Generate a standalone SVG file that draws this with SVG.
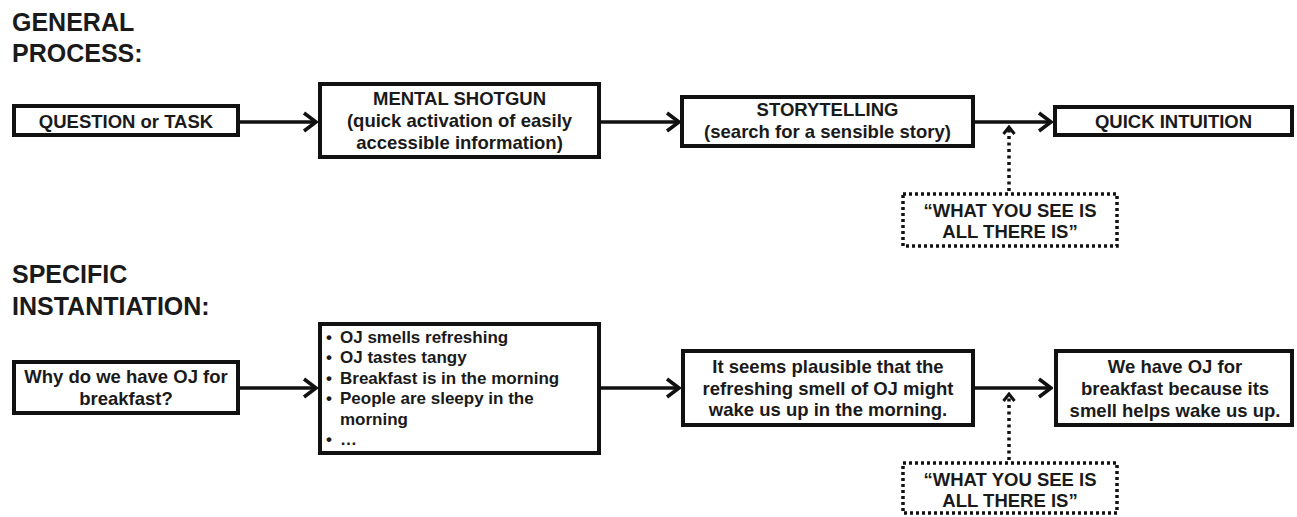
<svg xmlns="http://www.w3.org/2000/svg" width="1297" height="517" viewBox="0 0 1297 517">
  <defs>
    <marker id="arrow" viewBox="-16 -12 18 24" refX="0" refY="0" markerWidth="18" markerHeight="24" markerUnits="userSpaceOnUse" orient="auto">
      <path d="M-12,-9 L0,0 L-12,9" fill="none" stroke="#111" stroke-width="3.5"/>
    </marker>
    <marker id="arrowSmall" viewBox="-12 -9 14 18" refX="0" refY="0" markerWidth="14" markerHeight="18" markerUnits="userSpaceOnUse" orient="auto">
      <path d="M-7,-5.5 L0,0 L-7,5.5" fill="none" stroke="#111" stroke-width="3"/>
    </marker>
    <style>
      .box { fill: #fff; stroke: #111; stroke-width: 4; }
      .dbox { fill: #fff; stroke: #111; stroke-width: 3.5; stroke-dasharray: 3 3; }
      .conn { stroke: #111; stroke-width: 3.5; fill: none; marker-end: url(#arrow); }
      .dconn { stroke: #111; stroke-width: 3.5; fill: none; stroke-dasharray: 3 3.5; marker-end: url(#arrowSmall); }
      text { font-family: "Liberation Sans", Arial, Helvetica, sans-serif; font-weight: bold; fill: #1a1a1a; }
      .head { font-size: 25px; }
      .t { font-size: 18.5px; text-anchor: middle; }
      .l { font-size: 17px; }
    </style>
  </defs>

  <g id="heading-general">
    <text class="head" x="12" y="31">GENERAL</text>
    <text class="head" x="12" y="62">PROCESS:</text>
  </g>
  <g id="heading-specific">
    <text class="head" x="12" y="283">SPECIFIC</text>
    <text class="head" x="12" y="315">INSTANTIATION:</text>
  </g>

  <g id="connectors">
    <line class="conn" x1="238" y1="122" x2="316" y2="122"/>
    <line class="conn" x1="599" y1="122" x2="679" y2="122"/>
    <line class="conn" x1="973" y1="122" x2="1051" y2="122"/>
    <line class="dconn" x1="1009" y1="191" x2="1009" y2="127"/>
    <line class="conn" x1="238" y1="388" x2="316" y2="388"/>
    <line class="conn" x1="599" y1="388" x2="679" y2="388"/>
    <line class="conn" x1="973" y1="388" x2="1051" y2="388"/>
    <line class="dconn" x1="1009" y1="460" x2="1009" y2="394"/>
  </g>

  <g id="question-or-task">
    <rect class="box" x="14" y="106" width="224" height="29"/>
    <text class="t" x="126" y="128">QUESTION or TASK</text>
  </g>
  <g id="mental-shotgun">
    <rect class="box" x="320" y="84" width="279" height="73"/>
    <text class="t" x="459.5" y="105">MENTAL SHOTGUN</text>
    <text class="t" x="459.5" y="127">(quick activation of easily</text>
    <text class="t" x="459.5" y="149">accessible information)</text>
  </g>
  <g id="storytelling">
    <rect class="box" x="682" y="97" width="291" height="49"/>
    <text class="t" x="827.5" y="116">STORYTELLING</text>
    <text class="t" x="827.5" y="138">(search for a sensible story)</text>
  </g>
  <g id="quick-intuition">
    <rect class="box" x="1055" y="107" width="237" height="28"/>
    <text class="t" x="1173.5" y="128">QUICK INTUITION</text>
  </g>
  <g id="wysiati-top">
    <rect class="dbox" x="903" y="194" width="214" height="52"/>
    <text class="t" x="1010" y="217">“WHAT YOU SEE IS</text>
    <text class="t" x="1010" y="238">ALL THERE IS”</text>
  </g>

  <g id="why-oj">
    <rect class="box" x="14" y="362" width="224" height="51"/>
    <text class="t" x="126" y="383">Why do we have OJ for</text>
    <text class="t" x="126" y="405">breakfast?</text>
  </g>
  <g id="oj-facts">
    <rect class="box" x="320" y="324" width="279" height="129"/>
    <text class="l" x="326" y="343">•</text>
    <text class="l" x="340" y="343">OJ smells refreshing</text>
    <text class="l" x="326" y="363">•</text>
    <text class="l" x="340" y="363">OJ tastes tangy</text>
    <text class="l" x="326" y="384">•</text>
    <text class="l" x="340" y="384">Breakfast is in the morning</text>
    <text class="l" x="326" y="404">•</text>
    <text class="l" x="340" y="404">People are sleepy in the</text>
    <text class="l" x="340" y="425">morning</text>
    <text class="l" x="326" y="445">•</text>
    <text class="l" x="340" y="445">…</text>
  </g>
  <g id="plausible-story">
    <rect class="box" x="683" y="351" width="290" height="74"/>
    <text class="t" x="828" y="373">It seems plausible that the</text>
    <text class="t" x="828" y="395">refreshing smell of OJ might</text>
    <text class="t" x="828" y="416">wake us up in the morning.</text>
  </g>
  <g id="oj-intuition">
    <rect class="box" x="1056" y="351" width="236" height="74"/>
    <text class="t" x="1175" y="373">We have OJ for</text>
    <text class="t" x="1175" y="395">breakfast because its</text>
    <text class="t" x="1175" y="417">smell helps wake us up.</text>
  </g>
  <g id="wysiati-bottom">
    <rect class="dbox" x="903" y="463" width="214" height="50"/>
    <text class="t" x="1010" y="486">“WHAT YOU SEE IS</text>
    <text class="t" x="1010" y="507">ALL THERE IS”</text>
  </g>
</svg>
